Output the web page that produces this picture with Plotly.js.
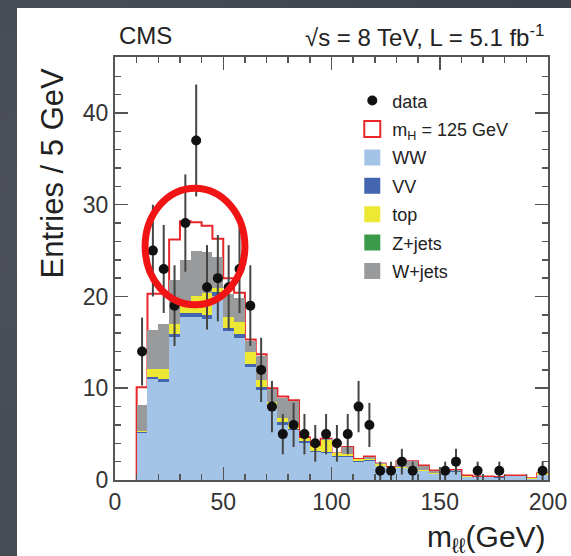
<!DOCTYPE html>
<html><head><meta charset="utf-8">
<script src="https://cdn.plot.ly/plotly-3.0.1.min.js"></script>
<style>
html,body{margin:0;padding:0;width:571px;height:556px;overflow:hidden;
  background:#3f444d;
  background-image:radial-gradient(ellipse at 30% 40%, rgba(255,255,255,0.05), rgba(0,0,0,0) 60%),
                   linear-gradient(90deg, rgba(255,255,255,0.04), rgba(0,0,0,0.04));}
#panel{position:absolute;left:17px;top:8px;width:554px;height:548px;background:#fff;}
#chart{width:554px;height:548px;}
</style></head><body>
<div id="panel"><div id="chart"></div></div>
<script>
// bin centres of the 5 GeV m_ll bins (10-200 GeV)
const binCenters = [12.5,17.5,22.5,27.5,32.5,37.5,42.5,47.5,52.5,57.5,62.5,67.5,72.5,77.5,82.5,87.5,92.5,97.5,102.5,107.5,112.5,117.5,122.5,127.5,132.5,137.5,142.5,147.5,152.5,157.5,162.5,167.5,172.5,177.5,182.5,187.5,192.5,197.5];
const binWidth = 5;

// stacked backgrounds (bottom to top)
const ww    = [5.1,11.0,10.7,15.6,17.8,17.8,17.5,20.0,16.2,15.5,12.3,9.8,7.8,6.0,5.4,4.0,3.1,2.9,2.5,2.5,2.0,2.1,1.5,1.3,1.3,1.2,1.0,0.6,0.9,0.9,0.35,0.3,0.3,0.25,0.4,0.4,0.1,0.5];
const vv    = [0.1,0.25,0.35,0.35,0.35,0.4,0.5,0.5,0.4,0.4,0.35,0.3,0.25,0.3,0.2,0.2,0.1,0.1,0.1,0.1,0.05,0.05,0.05,0.03,0.03,0.03,0.03,0.03,0.03,0.03,0.03,0.03,0.03,0.03,0.03,0.03,0.03,0.03];
const top_  = [0.1,0.85,1.1,1.05,0.85,1.8,2.4,0.4,1.2,1.3,1.3,0.8,0.5,0.5,0.5,0.4,0.5,1.4,0.3,0.2,0.25,0.1,0.15,0.1,0.1,0.05,0.05,0.1,0.05,0.05,0.1,0.05,0.05,0.05,0.05,0.05,0.05,0.2];
const zjets = [0,0,0,0,0,0,0,0,0,0,0,0,0,0,0,0,0,0,0,0,0,0,0,0,0,0,0,0,0,0,0,0,0,0,0,0,0,0];
const wjets = [2.9,4.2,4.85,4.8,5.0,5.0,4.4,3.4,2.5,2.6,1.15,2.6,1.35,2.1,2.5,0,0,0.1,0,0.8,0,0.3,0.1,0,0.6,0.75,0.5,0.3,0,0.1,0,0,0,0,0,0,0,0];
// Higgs signal (mH = 125 GeV) stacked on top
const higgs = [1.9,4.0,3.3,4.4,4.2,3.1,2.9,2.0,1.7,0.6,0.2,0.2,0.1,0.2,0.1,0.05,0.05,0,0,0,0,0,0,0,0,0,0,0,0,0,0,0,0,0,0,0,0,0];

// observed data and errors (empty bins not drawn)
const dataY   = [14,25,23,19,28,37,21,22,21,23,19,12,8,5,6,5,4,5,4,5,8,6,1,1,2,1,null,null,1,2,null,1,null,1,null,null,null,1];
const dataErr = [3.7,5.0,4.8,4.4,5.3,6.1,4.6,4.7,4.6,4.8,4.4,3.5,2.8,2.2,2.4,2.2,2.0,2.2,2.0,2.2,2.8,2.4,1,1,1.4,1,null,null,1,1.4,null,1,null,1,null,null,null,1];

const cWW='#a3c4e6', cVV='#4466b0', cTop='#ece834', cZ='#3a9a4a', cW='#999a9c', cH='#e8262a';
const FONT = 'Liberation Sans, Arial, Helvetica, sans-serif';

// red outline of total (backgrounds + signal), drawn beneath the stack
const total = binCenters.map((_, i) => ww[i]+vv[i]+top_[i]+zjets[i]+wjets[i]+higgs[i]);
const stepX = [binCenters[0]-binWidth/2], stepY = [0];
binCenters.forEach((c, i) => { stepX.push(c-binWidth/2); stepY.push(total[i]); });
stepX.push(binCenters[binCenters.length-1]+binWidth/2); stepY.push(total[total.length-1]);

function barTrace(y, color){
  return {type:'bar', x:binCenters, y:y, width:binWidth, xaxis:'x2', yaxis:'y2',
    marker:{color:color, line:{width:0}}, showlegend:false, hoverinfo:'skip'};
}
function legendBox(name, color, open){
  return {type:'scatter', mode:'markers', x:[null], y:[null], name:name,
    marker: open ? {symbol:'square-open', size:20, color:cH, line:{color:cH, width:2}}
                 : {symbol:'square', size:20, color:color, line:{width:0}},
    legendgroup:name};
}

const traces = [
  {type:'scatter', mode:'lines', x:stepX, y:stepY, line:{shape:'hv', color:cH, width:2},
   showlegend:false, hoverinfo:'skip'},
  barTrace(ww, cWW), barTrace(vv, cVV), barTrace(top_, cTop), barTrace(zjets, cZ), barTrace(wjets, cW),
  {type:'scatter', mode:'markers', x:binCenters, y:dataY, xaxis:'x2', yaxis:'y2',
   marker:{color:'#111', size:10},
   error_y:{type:'data', array:dataErr, visible:true, color:'#444', thickness:2, width:0},
   showlegend:false},
  {type:'scatter', mode:'markers', x:[null], y:[null], name:'data', legendgroup:'data',
   marker:{color:'#111', size:10}},
  legendBox('m<sub>H</sub> = 125 GeV', cH, true),
  legendBox('WW', cWW), legendBox('VV', cVV), legendBox('top', cTop),
  legendBox('Z+jets', cZ), legendBox('W+jets', cW)
];

const axCommon = {ticks:'inside', ticklen:13, tickwidth:1.5, tickcolor:'#555',
  showline:true, linecolor:'#555', linewidth:2, mirror:'allticks', showgrid:false, zeroline:false,
  tickfont:{family:FONT, size:23, color:'#333'}};

const layout = {
  width:554, height:548, margin:{l:98, r:23, t:49, b:76},
  paper_bgcolor:'#fff', plot_bgcolor:'#fff',
  barmode:'stack', bargap:0,
  font:{family:FONT, color:'#222'},
  xaxis:Object.assign({}, axCommon, {range:[0,200], dtick:50, tick0:0,
    minor:{dtick:10, ticks:'inside', ticklen:6, tickwidth:1.5, tickcolor:'#555'}}),
  yaxis:Object.assign({}, axCommon, {range:[0,46.1], dtick:10, tick0:0,
    minor:{dtick:2, ticks:'inside', ticklen:6, tickwidth:1.5, tickcolor:'#555'}}),
  xaxis2:{overlaying:'x', range:[0,200], visible:false},
  yaxis2:{overlaying:'y', range:[0,46.1], visible:false},
  showlegend:true,
  legend:{x:0.548, y:0.94, xanchor:'left', yanchor:'top', bgcolor:'rgba(0,0,0,0)',
    font:{family:FONT, size:18, color:'#222'}, traceorder:'grouped', tracegroupgap:2,
    itemsizing:'trace'},
  shapes:[{type:'circle', xref:'x', yref:'y', x0:13.9, x1:60, y0:19.1, y1:31.8,
    line:{color:'#f01414', width:7}, layer:'above'}],
  annotations:[
    {text:'CMS', xref:'paper', yref:'paper', x:0.005, y:1.05, xanchor:'left', yanchor:'middle',
     showarrow:false, font:{family:FONT, size:24, color:'#222'}},
    {text:'√s = 8 TeV, L = 5.1 fb<sup>-1</sup>', xref:'paper', yref:'paper', x:0.995, y:1.05,
     xanchor:'right', yanchor:'middle', showarrow:false, font:{family:FONT, size:24, color:'#222'}},
    {text:'Entries / 5 GeV', xref:'paper', yref:'paper', x:-0.145, y:0.725, xanchor:'center', yanchor:'middle',
     textangle:-90, showarrow:false, font:{family:FONT, size:31, color:'#222'}},
    {text:'m<sub>ℓℓ</sub>(GeV)', xref:'paper', yref:'paper', x:1.0, y:-0.138, xanchor:'right', yanchor:'middle',
     showarrow:false, font:{family:FONT, size:30, color:'#222'}}
  ]
};

Plotly.newPlot('chart', traces, layout, {displayModeBar:false, staticPlot:true});
</script>
</body></html>
